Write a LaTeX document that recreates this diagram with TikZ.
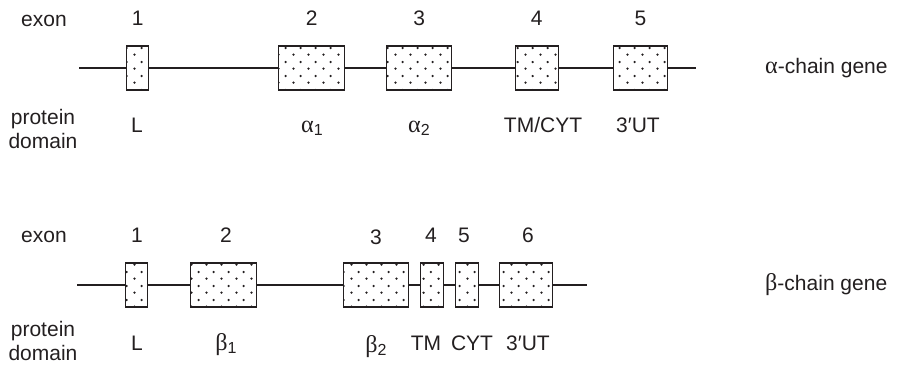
\documentclass[tikz,border=0pt]{standalone}
\usepackage{fontspec}
\setmainfont{Liberation Sans}
\newfontfamily\grkfont[Scale=1.15]{Liberation Serif}
\usetikzlibrary{patterns,positioning}
\definecolor{encre}{RGB}{35,31,32}
\pgfdeclarepatternformonly{exondots}{\pgfpointorigin}{\pgfpoint{14.5pt}{14pt}}{\pgfpoint{14.5pt}{14pt}}{%
  \pgfpathcircle{\pgfpoint{3.6pt}{3.5pt}}{1.3pt}%
  \pgfpathcircle{\pgfpoint{10.9pt}{10.5pt}}{1.3pt}%
  \pgfusepath{fill}}
\newcommand{\grk}[2]{{\grkfont #1}\raisebox{-0.3ex}{\fontsize{16}{16}\selectfont #2}}

\begin{document}
\begin{tikzpicture}[x=1pt,y=-1pt,font=\fontsize{21}{24}\selectfont,
    exonbox/.style={draw=encre,line width=1.1pt,pattern=exondots,pattern color=encre,
                    minimum height=44pt,inner sep=0pt},
    gene/.style={encre,line width=1.8pt},
    lab/.style={anchor=base,text=encre,inner sep=0pt}]
  \useasboundingbox (0,0) rectangle (897,365);
  % alpha chain
  \foreach \n/\x/\w in {1/137.8/22,2/311.8/66,3/419.2/65,4/536.8/43,5/640.5/54}{
    \node[exonbox,minimum width=\w pt] (a\n) at (\x,68) {};
    \node[lab] (na\n) at (\x,25) {\n};}
  \coordinate (a0) at (79,68);
  \coordinate (a6) at (696,68);
  \draw[gene] (a0) -- (a1) -- (a2) -- (a3) -- (a4) -- (a5) -- (a6);
  \node[lab] (ea) at (44,26) {exon};
  \node[align=center,text=encre,inner sep=0pt] (pa) at (43,129) {protein\\domain};
  \node[lab] (da1) at (137,132) {L};
  \node[lab] (da2) at (312,132) {\grk{α}{1}};
  \node[lab] (da3) at (419,132) {\grk{α}{2}};
  \node[lab] (da4) at (543,132) {TM/CYT};
  \node[lab] (da5) at (638,132) {3′UT};
  \node[lab,anchor=base west] (ga) at (765,73) {{\grkfont α}-chain gene};
  % beta chain
  \foreach \n/\x/\w in {1/136.7/22,2/223.8/66,3/375.8/65,4/432/23,5/467.3/23,6/525.8/53}{
    \node[exonbox,minimum width=\w pt] (b\n) at (\x,285) {};}
  \foreach \n/\x/\y in {1/137/242,2/226/242,3/376/244,4/431/242,5/464/242,6/528/242}{
    \node[lab] (nb\n) at (\x,\y) {\n};}
  \coordinate (b0) at (77,285);
  \coordinate (b7) at (587,285);
  \draw[gene] (b0) -- (b1) -- (b2) -- (b3) -- (b4) -- (b5) -- (b6) -- (b7);
  \node[lab] (eb) at (44,242) {exon};
  \node[align=center,text=encre,inner sep=0pt] (pb) at (43,341) {protein\\domain};
  \node[lab] (db1) at (137,350) {L};
  \node[lab] (db2) at (226,350) {\grk{β}{1}};
  \node[lab] (db3) at (376,352) {\grk{β}{2}};
  \node[lab] (db4) at (426,350) {TM};
  \node[lab] (db5) at (472,350) {CYT};
  \node[lab] (db6) at (528,350) {3′UT};
  \node[lab,anchor=base west] (gb) at (765,290) {{\grkfont β}-chain gene};
\end{tikzpicture}
\end{document}
